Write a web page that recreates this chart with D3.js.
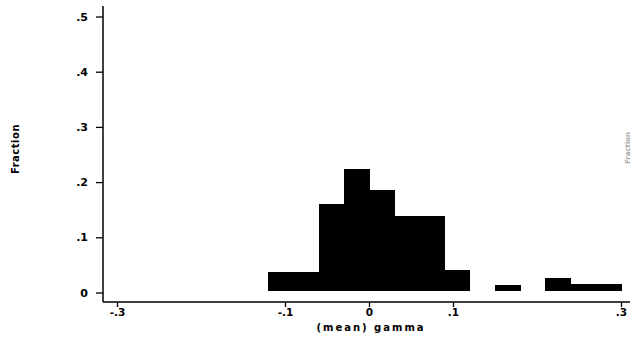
<!DOCTYPE html>
<html><head><meta charset="utf-8">
<script src="https://cdn.jsdelivr.net/npm/d3@7"></script>
<style>body{margin:0;background:#fff}svg{display:block}text{font-family:"DejaVu Sans",Arial,sans-serif;font-weight:bold;fill:#000}</style>
</head><body><div id="c"></div>
<script>
const binStarts = [-0.12,-0.09,-0.06,-0.03,0,0.03,0.06,0.09,0.12,0.15,0.18,0.21,0.24,0.27];
const binWidth = 0.03;
const fractions = [0.038,0.038,0.16,0.223,0.186,0.138,0.138,0.04,0,0.014,0,0.027,0.016,0.016];
const xTicks = [-0.3,-0.1,0,0.1,0.3];
const xTickLabels = ["-.3","-.1","0",".1",".3"];
const yTicks = [0,0.1,0.2,0.3,0.4,0.5];
const yTickLabels = ["0",".1",".2",".3",".4",".5"];

const W=634,H=337;
const svg=d3.select("#c").append("svg").attr("width",W).attr("height",H);
const x=d3.scaleLinear().domain([-0.3,0.3]).range([117,621]);
const y=d3.scaleLinear().domain([0,0.5]).range([292.5,16.5]);
const FF="DejaVu Sans, Arial, sans-serif";

// bars
svg.append("g").attr("shape-rendering","crispEdges").selectAll("rect")
 .data(binStarts.map((s,i)=>({s,v:fractions[i]})).filter(d=>d.v>0))
 .join("rect")
 .attr("x",d=>x(d.s)).attr("width",d=>x(d.s+binWidth)-x(d.s)+0.5)
 .attr("y",d=>y(d.v)).attr("height",d=>y(0)-y(d.v)-1.5)
 .attr("fill","#000");

// y axis
const yAxis=d3.axisLeft(y).tickValues(yTicks).tickFormat((d,i)=>yTickLabels[i]).tickSize(7).tickPadding(8);
const gy=svg.append("g").attr("transform","translate(103,0)").call(yAxis);
gy.select(".domain").remove();
gy.append("line").attr("x1",0).attr("x2",0).attr("y1",6).attr("y2",302).attr("stroke","#000").attr("stroke-width",1.5);
gy.selectAll(".tick line").attr("stroke-width",1.3);
gy.selectAll(".tick text").attr("font-size",11).attr("font-family",FF).attr("font-weight","bold");

// x axis
const xAxis=d3.axisBottom(x).tickValues(xTicks).tickFormat((d,i)=>xTickLabels[i]).tickSize(5).tickPadding(2);
const gx=svg.append("g").attr("transform","translate(0,302)").call(xAxis);
gx.select(".domain").remove();
gx.append("line").attr("x1",103).attr("x2",630).attr("y1",0).attr("y2",0).attr("stroke","#000").attr("stroke-width",1.5);
gx.selectAll(".tick line").attr("stroke-width",1.3);
gx.selectAll(".tick text").attr("font-size",10.5).attr("font-family",FF).attr("font-weight","bold");

// titles
svg.append("text").attr("x",371).attr("y",331).attr("text-anchor","middle").attr("font-size",10).style("letter-spacing","2px").text("(mean) gamma");
svg.append("text").attr("transform","translate(19,149) rotate(-90)").attr("text-anchor","middle").attr("font-size",10).style("letter-spacing","0.5px").text("Fraction");
svg.append("text").attr("transform","translate(630,148) rotate(-90)").attr("text-anchor","middle").attr("font-size",7).style("fill","#aaa").text("Fraction");
</script></body></html>
